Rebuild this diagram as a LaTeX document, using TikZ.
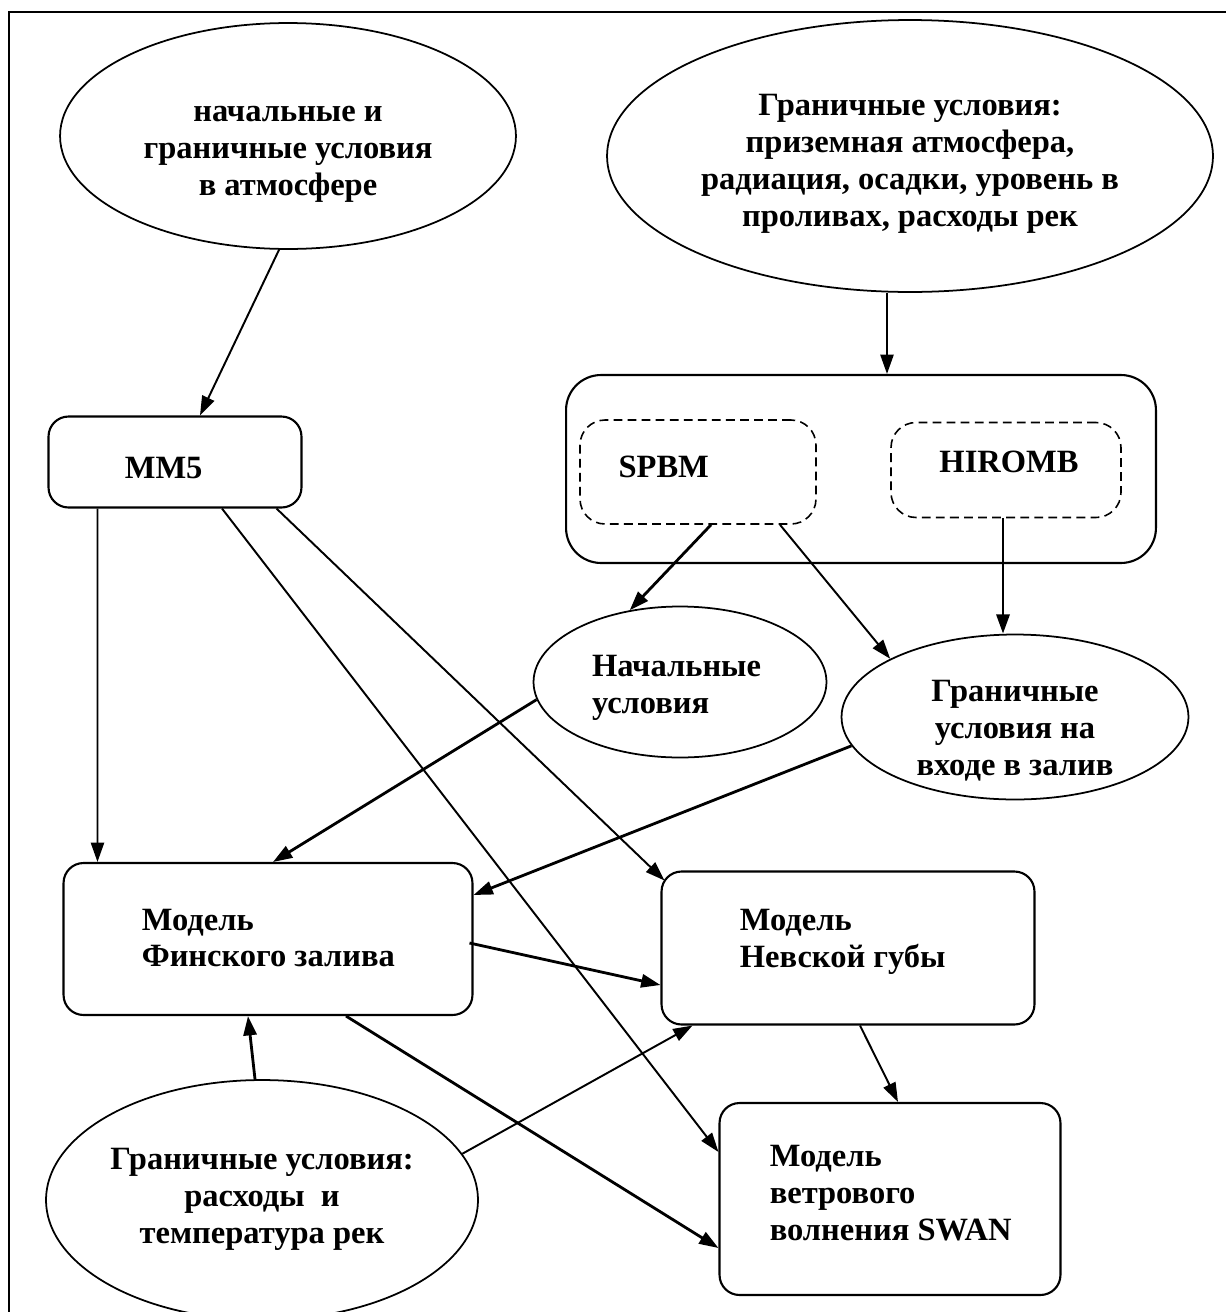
\documentclass[tikz,border=0pt]{standalone}
\usepackage{fontspec}
\setmainfont{Liberation Serif}
\usetikzlibrary{arrows.meta,calc,shapes.geometric,positioning}

\begin{document}
\begin{tikzpicture}
[x=0.02cm,y=-0.02cm,
oval/.style={ellipse,draw=black,line width=1pt,inner sep=0pt},
box/.style={rectangle,rounded corners=0.4cm,draw=black,line width=1.2pt,inner sep=0pt},
dbox/.style={rectangle,rounded corners=0.5cm,draw=black,dash pattern=on 5pt off 3pt,line width=0.9pt,inner sep=0pt},
txt/.style={font=\bfseries\fontsize{18.5}{21}\selectfont,inner sep=0pt,align=center},
ltxt/.style={txt,align=left,anchor=west},
arr/.style={-{Triangle[length=11pt,width=7.5pt]},line width=1.1pt},
tarr/.style={arr,line width=1.6pt}]
\useasboundingbox (0,0) rectangle (1226,1312);
\clip (0,0) rectangle (1226,1312);
\draw[line width=1.2pt] (9,1330) -- (9,12) -- (1240,12);

\node[oval,minimum width=9.12cm,minimum height=4.52cm] (atmo) at (288,136) {};
\node[oval,minimum width=12.12cm,minimum height=5.44cm] (bnd) at (910,156) {};
\node[box,minimum width=5.06cm,minimum height=1.82cm] (mm5) at (175,462) {};
\node[box,rounded corners=0.7cm,minimum width=11.8cm,minimum height=3.76cm] (cont) at (861,469) {};
\node[dbox,minimum width=4.72cm,minimum height=2.08cm] (spbm) at (698,472) {};
\node[dbox,minimum width=4.6cm,minimum height=1.9cm] (hiromb) at (1006,470) {};
\node[oval,minimum width=5.86cm,minimum height=3.02cm] (nach) at (680,682) {};
\node[oval,minimum width=6.94cm,minimum height=3.3cm] (bndin) at (1015,717) {};
\node[box,minimum width=8.18cm,minimum height=3.04cm] (finsky) at (268,939) {};
\node[box,minimum width=7.46cm,minimum height=3.06cm] (neva) at (848,948) {};
\node[box,minimum width=6.82cm,minimum height=3.84cm] (swan) at (890,1199) {};
\node[oval,minimum width=8.64cm,minimum height=4.8cm] (rivers) at (262,1200) {};

\node[txt] (atmotext) at ($(atmo)+(0,18)$) {начальные и\\граничные условия\\в атмосфере};
\node[txt] (bndtext) at ($(bnd)+(0,8)$) {Граничные условия:\\приземная атмосфера,\\радиация, осадки, уровень в\\проливах, расходы рек};
\node[ltxt] (mm5text) at ($(mm5.west)+(77,6)$) {MM5};
\node[ltxt] (spbmtext) at ($(spbm.west)+(39,-5)$) {SPBM};
\node[txt] (hirombtext) at ($(hiromb)+(3,-8)$) {HIROMB};
\node[ltxt] (nachtext) at ($(nach.west)+(59,6)$) {Начальные\\условия};
\node[txt] (bndintext) at ($(bndin)+(0,14)$) {Граничные\\условия на\\входе в залив};
\node[ltxt] (finskytext) at ($(finsky.west)+(79,-1)$) {Модель\\Финского залива};
\node[ltxt] (nevatext) at ($(neva.west)+(79,-6)$) {Модель\\Невской губы};
\node[ltxt] (swantext) at ($(swan.west)+(51,-6)$) {Модель\\ветрового\\волнения SWAN};
\node[txt] (riverstext) at ($(rivers)+(0,-1)$) {Граничные условия:\\расходы~~и\\температура рек};

\draw [arr] ($(atmo.south)+(-9,0)$) -- ($(mm5.north)+(25,0)$);
\draw [arr] ($(bnd.south)+(-23,0)$) -- ($(cont.north)+(26,0)$);
\draw [tarr] ($(spbm.south)+(13,0)$) -- (nach.125);
\draw [arr] ($(spbm.south)+(82,0)$) -- (bndin.155);
\draw [tarr] ($(hiromb.south)+(-3,0)$) -- ($(bndin.north)+(-12,0)$);
\draw [arr] ($(mm5.south west)+(50,0)$) -- ($(finsky.north west)+(35,0)$);
\draw [arr] ($(mm5.south east)+(-26,0)$) -- ($(neva.north west)+(4,10)$);
\draw [arr] ($(mm5.south)+(47,0)$) -- ($(swan.west)+(0,-47)$);
\draw [tarr] (nach.187) -- ($(finsky.north)+(5,0)$);
\draw [tarr] (bndin.190) -- ($(finsky.east)+(0,-44)$);
\draw [tarr] ($(finsky.east)+(-4,4)$) -- ($(neva.west)+(0,37)$);
\draw [tarr] ($(finsky.south)+(78,0)$) -- ($(swan.west)+(0,49)$);
\draw [tarr] ($(rivers.north)+(-7,0)$) -- ($(finsky.south)+(-20,0)$);
\draw [arr] (rivers.13) -- ($(neva.south west)+(32,0)$);
\draw [arr] ($(neva.south)+(12,0)$) -- ($(swan.north)+(8,0)$);
\end{tikzpicture}
\end{document}
